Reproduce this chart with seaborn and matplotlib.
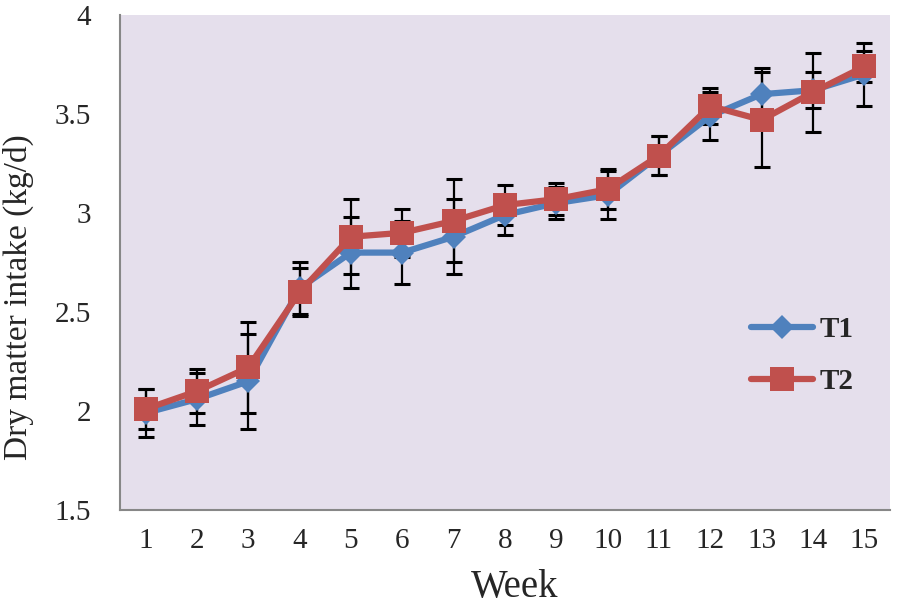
import numpy as np
import pandas as pd
import matplotlib
matplotlib.use('Agg')
import matplotlib.pyplot as plt
from matplotlib.ticker import FuncFormatter, FixedLocator
import seaborn as sns

# values
weeks = list(range(1, 16))
t1_mean = [1.99, 2.06, 2.15, 2.62, 2.80, 2.80, 2.88, 2.99, 3.05, 3.09, 3.29, 3.49, 3.60, 3.62, 3.70]
t1_err = [0.12, 0.13, 0.24, 0.13, 0.18, 0.16, 0.19, 0.10, 0.08, 0.12, 0.10, 0.12, 0.13, 0.09, 0.16]
t2_mean = [2.01, 2.10, 2.22, 2.60, 2.88, 2.90, 2.96, 3.04, 3.07, 3.12, 3.29, 3.54, 3.47, 3.61, 3.74]
t2_err = [0.10, 0.11, 0.23, 0.12, 0.19, 0.12, 0.21, 0.10, 0.08, 0.10, 0.10, 0.09, 0.24, 0.20, 0.08]

df = pd.DataFrame({
    'Week': weeks * 2,
    'DMI': t1_mean + t2_mean,
    'err': t1_err + t2_err,
    'Treatment': ['T1'] * 15 + ['T2'] * 15,
})

colors = {'T1': '#4F81BD', 'T2': '#C0504D'}
markers = {'T1': 'D', 'T2': 's'}
msizes = {'T1': 12, 'T2': 17}

sns.set_style('white')
plt.rcParams['font.family'] = ['Liberation Serif', 'DejaVu Serif']

fig = plt.figure(figsize=(9.04, 6.07), dpi=100)
ax = fig.add_axes([0.1327, 0.1598, 0.8518, 0.8155])
ax.set_facecolor('#E5DFEC')

# error bars behind the lines
for trt, g in df.groupby('Treatment'):
    ax.errorbar(g['Week'], g['DMI'], yerr=g['err'], fmt='none', ecolor='black',
                elinewidth=1.6, capsize=5.5, capthick=2.2, zorder=1)

for trt, g in df.groupby('Treatment'):
    sns.lineplot(data=g, x='Week', y='DMI', color=colors[trt], marker=markers[trt],
                 markersize=msizes[trt], markeredgewidth=0, linewidth=4.5,
                 label=trt, ax=ax, zorder=3)

ax.set_xlim(0.5, 15.5)
ax.set_ylim(1.5, 4)
ax.set_yticks([1.5, 2, 2.5, 3, 3.5, 4])
ax.yaxis.set_major_formatter(FuncFormatter(lambda v, p: ('%g' % v)))
ax.set_xticks(weeks)
ax.xaxis.set_minor_locator(FixedLocator(np.arange(0.5, 16, 1)))
ax.tick_params(axis='x', which='major', length=0, pad=13, labelsize=21)
ax.tick_params(axis='x', which='minor', length=7, width=1.5, color='#878787', direction='out')
ax.tick_params(axis='y', which='major', length=7, width=1.5, color='#878787', direction='out',
               labelsize=21, pad=14)

for s in ['top', 'right']:
    ax.spines[s].set_visible(False)
for s in ['left', 'bottom']:
    ax.spines[s].set_color('#878787')
    ax.spines[s].set_linewidth(1.5)

ax.set_xlabel('Week', fontsize=28)
ax.set_ylabel('Dry matter intake (kg/d)', fontsize=24)
ax.xaxis.set_label_coords(0.513, -0.12)
ax.yaxis.set_label_coords(-0.112, 0.43)

leg = ax.legend(loc='center left', bbox_to_anchor=(0.786, 0.312), frameon=False,
                prop={'weight': 'bold', 'size': 21}, handlelength=2.1,
                labelspacing=0.85, handletextpad=0.25)

fig.savefig('out.png', dpi=100)
